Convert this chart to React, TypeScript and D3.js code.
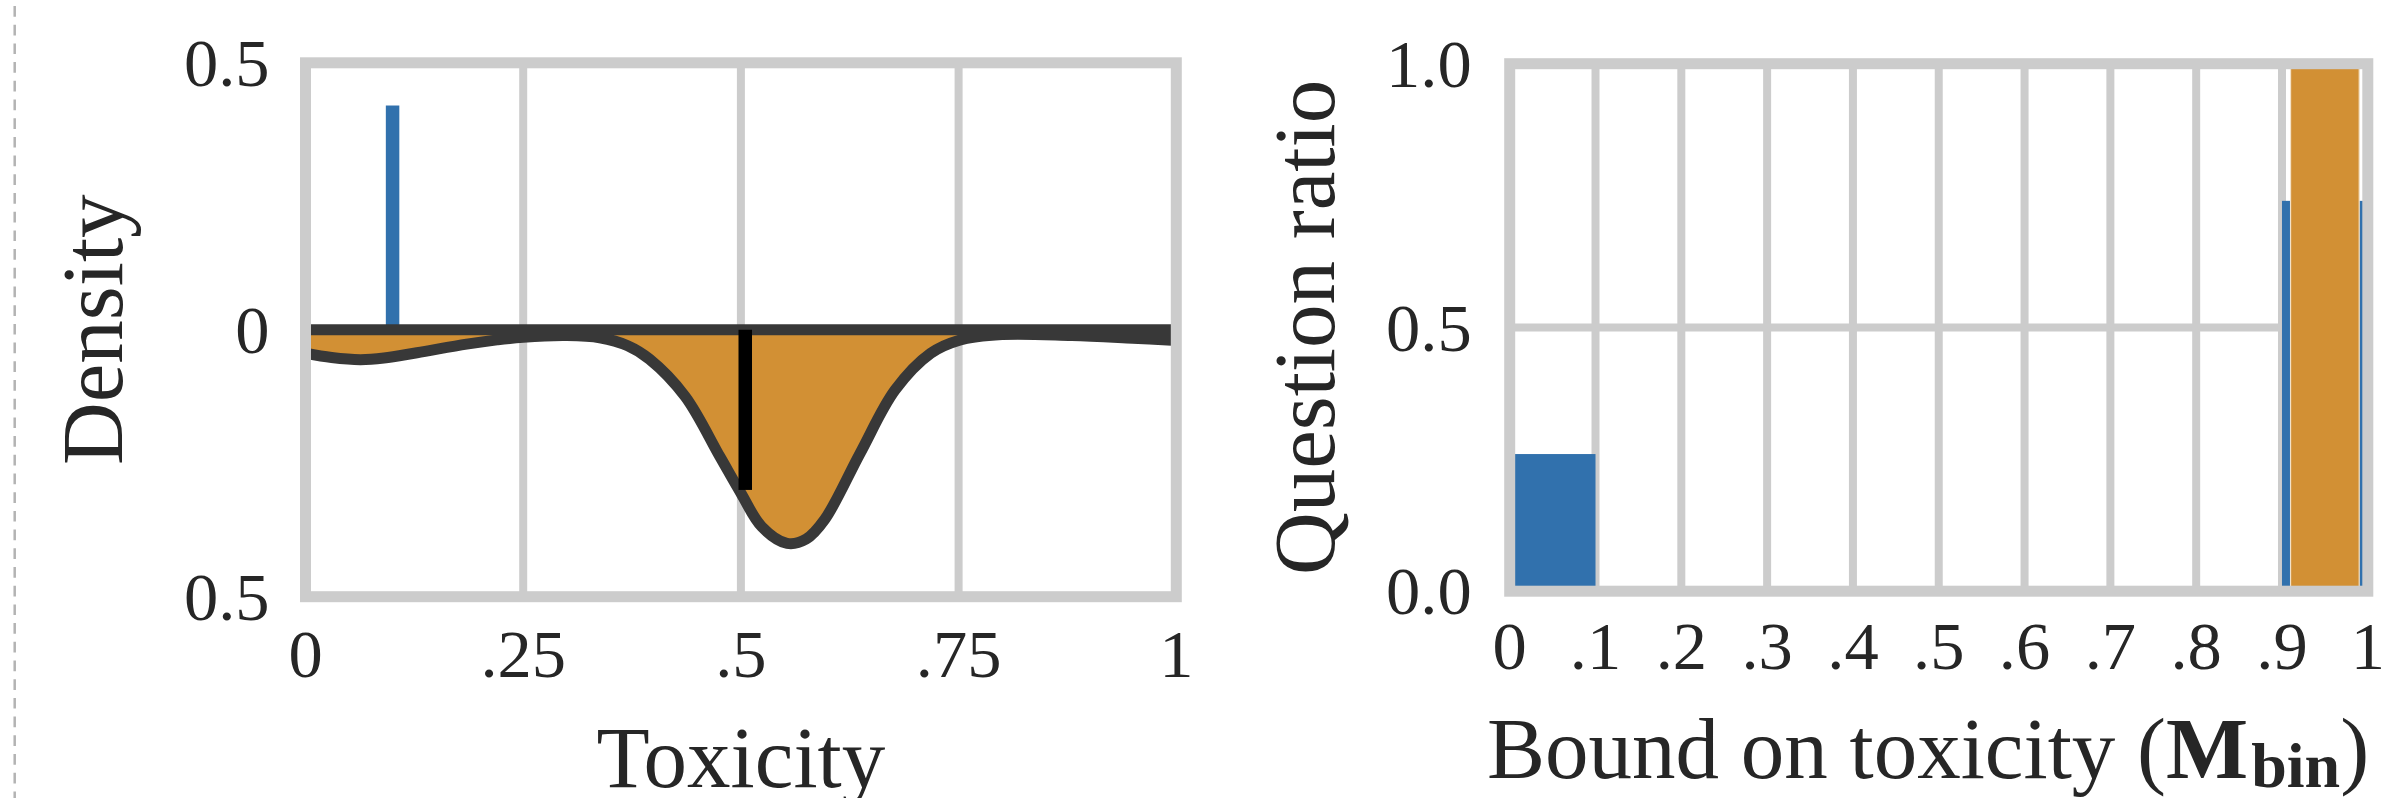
import React from 'react';
import * as d3 from 'd3';

// ---------- data: left panel (density of toxicity) ----------
const kdeX = [0, 0.03, 0.063, 0.09, 0.128, 0.185, 0.22, 0.25, 0.3, 0.338, 0.37, 0.395, 0.436, 0.476, 0.5, 0.524, 0.553, 0.575, 0.596, 0.637, 0.677, 0.718, 0.75, 0.8, 0.88, 0.95, 1.0];
const kdeDensity = [0.044, 0.052, 0.056, 0.053, 0.043, 0.027, 0.019, 0.014, 0.011, 0.015, 0.03, 0.055, 0.125, 0.238, 0.306, 0.369, 0.4, 0.392, 0.356, 0.231, 0.113, 0.044, 0.02, 0.009, 0.011, 0.016, 0.02];
const spikeX = [0.1];
const spikeDensity = [0.42];
const markerX = [0.505];
const markerDensity = [0.3];
const leftXTicks = [0, 0.25, 0.5, 0.75, 1];
const leftXTickLabels = ['0', '.25', '.5', '.75', '1'];
const leftYTicks = [0.5, 0, -0.5];
const leftYTickLabels = ['0.5', '0', '0.5'];

// ---------- data: right panel (question ratio per bin) ----------
const binStarts = [0, 0.1, 0.2, 0.3, 0.4, 0.5, 0.6, 0.7, 0.8, 0.9];
const blueRatio = [0.26, 0, 0, 0, 0, 0, 0, 0, 0, 0.74];
const orangeRatio = [0, 0, 0, 0, 0, 0, 0, 0, 0, 1.0];
const rightXTicks = [0, 0.1, 0.2, 0.3, 0.4, 0.5, 0.6, 0.7, 0.8, 0.9, 1];
const rightXTickLabels = ['0', '.1', '.2', '.3', '.4', '.5', '.6', '.7', '.8', '.9', '1'];
const rightYTicks = [0, 0.5, 1.0];
const rightYTickLabels = ['0.0', '0.5', '1.0'];

// ---------- styles ----------
const W = 2384;
const H = 798;
const BLUE = '#3171AD';
const ORANGE = '#D29034';
const DARK = '#383838';
const GRID = '#cccccc';
const TEXT = '#262626';
const FONT = "'Liberation Serif', 'Times New Roman', serif";
const TICK_FS = 68.5;
const LABEL_FS = 87;
const FRAME_W = 11;
const GRID_W = 8;
const BIN_W = 0.1;
const SPIKE_W = 0.0155;

export default function App() {
  // left panel scales
  const xL = d3.scaleLinear().domain([0, 1]).range([305.5, 1176.3]);
  const yL = d3.scaleLinear().domain([-0.5, 0.5]).range([596.7, 62.8]);
  // right panel scales
  const xR = d3.scaleLinear().domain([0, 1]).range([1509.7, 2367.8]);
  const yR = d3.scaleLinear().domain([0, 1]).range([591.2, 63.7]);

  const pts = kdeX.map((x, i) => [x, kdeDensity[i]] as [number, number]);
  const curve = d3.curveCatmullRom.alpha(0.5);
  const areaGen = d3
    .area<[number, number]>()
    .x((d) => xL(d[0]))
    .y0(() => yL(0))
    .y1((d) => yL(-d[1]))
    .curve(curve);
  const lineGen = d3
    .line<[number, number]>()
    .x((d) => xL(d[0]))
    .y((d) => yL(-d[1]))
    .curve(curve);

  const [lx0, lx1] = xL.range();
  const [ly0, ly1] = yL.range();
  const [rx0, rx1] = xR.range();
  const [ry0, ry1] = yR.range();

  return (
    <svg
      width={W}
      height={H}
      viewBox={`0 0 ${W} ${H}`}
      style={{ position: 'absolute', left: 0, top: 0, background: '#fff' }}
      fontFamily={FONT}
    >
      <defs>
        <clipPath id="clipL">
          <rect x={lx0} y={ly1} width={lx1 - lx0} height={ly0 - ly1} />
        </clipPath>
        <clipPath id="clipR">
          <rect x={rx0} y={ry1} width={rx1 - rx0} height={ry0 - ry1} />
        </clipPath>
      </defs>
      <rect x={0} y={0} width={W} height={H} fill="#fff" />

      {/* dashed separator at the left edge */}
      <line x1={14.7} x2={14.7} y1={-12.7} y2={H} stroke="#b3b3b3" strokeWidth={2.5} strokeDasharray="10.7 8" />

      {/* ================= LEFT PANEL ================= */}
      <g>
        {leftXTicks.slice(1, -1).map((t) => (
          <line key={'lgx' + t} x1={xL(t)} x2={xL(t)} y1={ly1} y2={ly0} stroke={GRID} strokeWidth={GRID_W} />
        ))}
        <g clipPath="url(#clipL)">
          <path d={areaGen(pts) || ''} fill={ORANGE} />
          <path d={lineGen(pts) || ''} fill="none" stroke={DARK} strokeWidth={11} strokeLinejoin="round" />
          {spikeX.map((x, i) => (
            <rect
              key={'sp' + i}
              x={xL(x - SPIKE_W / 2)}
              width={xL(SPIKE_W) - xL(0)}
              y={yL(spikeDensity[i])}
              height={yL(0) - yL(spikeDensity[i])}
              fill={BLUE}
            />
          ))}
          <line x1={xL(0)} x2={xL(1)} y1={yL(0)} y2={yL(0)} stroke={DARK} strokeWidth={11} />
          {markerX.map((x, i) => (
            <rect
              key={'mk' + i}
              x={xL(x - SPIKE_W / 2)}
              width={xL(SPIKE_W) - xL(0)}
              y={yL(0)}
              height={yL(-markerDensity[i]) - yL(0)}
              fill="#000"
            />
          ))}
        </g>
        <rect x={lx0} y={ly1} width={lx1 - lx0} height={ly0 - ly1} fill="none" stroke={GRID} strokeWidth={FRAME_W} />
        {leftXTicks.map((t, i) => (
          <text key={'lxt' + t} x={xL(t)} y={677} fontSize={TICK_FS} fill={TEXT} textAnchor="middle">
            {leftXTickLabels[i]}
          </text>
        ))}
        {leftYTicks.map((t, i) => (
          <text
            key={'lyt' + t}
            x={xL(0) - 36}
            y={yL(t)}
            dy="0.34em"
            fontSize={TICK_FS}
            fill={TEXT}
            textAnchor="end"
          >
            {leftYTickLabels[i]}
          </text>
        ))}
        <text x={(lx0 + lx1) / 2} y={787} fontSize={LABEL_FS} fill={TEXT} textAnchor="middle">
          Toxicity
        </text>
        <text
          transform={`translate(122,${(ly0 + ly1) / 2}) rotate(-90)`}
          fontSize={LABEL_FS}
          fill={TEXT}
          textAnchor="middle"
        >
          Density
        </text>
      </g>

      {/* ================= RIGHT PANEL ================= */}
      <g>
        {rightXTicks.slice(1, -1).map((t) => (
          <line key={'rgx' + t} x1={xR(t)} x2={xR(t)} y1={ry1} y2={ry0} stroke={GRID} strokeWidth={GRID_W} />
        ))}
        <line x1={rx0} x2={rx1} y1={yR(0.5)} y2={yR(0.5)} stroke={GRID} strokeWidth={GRID_W} />
        <g clipPath="url(#clipR)">
          {binStarts.map((b, i) =>
            blueRatio[i] > 0 ? (
              <rect
                key={'bb' + i}
                x={xR(b)}
                width={xR(b + BIN_W) - xR(b)}
                y={yR(blueRatio[i])}
                height={yR(0) - yR(blueRatio[i])}
                fill={BLUE}
              />
            ) : null
          )}
          {binStarts.map((b, i) =>
            orangeRatio[i] > 0 ? (
              <rect
                key={'ob' + i}
                x={xR(b + BIN_W * 0.1)}
                width={xR(b + BIN_W * 0.9) - xR(b + BIN_W * 0.1)}
                y={yR(orangeRatio[i])}
                height={yR(0) - yR(orangeRatio[i])}
                fill={ORANGE}
                stroke="#f3e2c8"
                strokeWidth={1.2}
              />
            ) : null
          )}
        </g>
        <rect x={rx0} y={ry1} width={rx1 - rx0} height={ry0 - ry1} fill="none" stroke={GRID} strokeWidth={FRAME_W} />
        {rightXTicks.map((t, i) => (
          <text key={'rxt' + t} x={xR(t)} y={669} fontSize={TICK_FS} fill={TEXT} textAnchor="middle">
            {rightXTickLabels[i]}
          </text>
        ))}
        {rightYTicks.map((t, i) => (
          <text
            key={'ryt' + t}
            x={xR(0) - 38}
            y={yR(t)}
            dy="0.34em"
            fontSize={TICK_FS}
            fill={TEXT}
            textAnchor="end"
          >
            {rightYTickLabels[i]}
          </text>
        ))}
        <text x={1487} y={778} fontSize={LABEL_FS} fill={TEXT} textAnchor="start">
          <tspan>Bound on toxicity (</tspan>
          <tspan fontWeight="bold">M</tspan>
          <tspan fontWeight="bold" fontSize={64} dx={3} dy={9}>
            bin
          </tspan>
          <tspan dy={-9}>)</tspan>
        </text>
        <text
          transform={`translate(1334,${(ry0 + ry1) / 2}) rotate(-90)`}
          fontSize={LABEL_FS}
          fill={TEXT}
          textAnchor="middle"
        >
          Question ratio
        </text>
      </g>
    </svg>
  );
}
